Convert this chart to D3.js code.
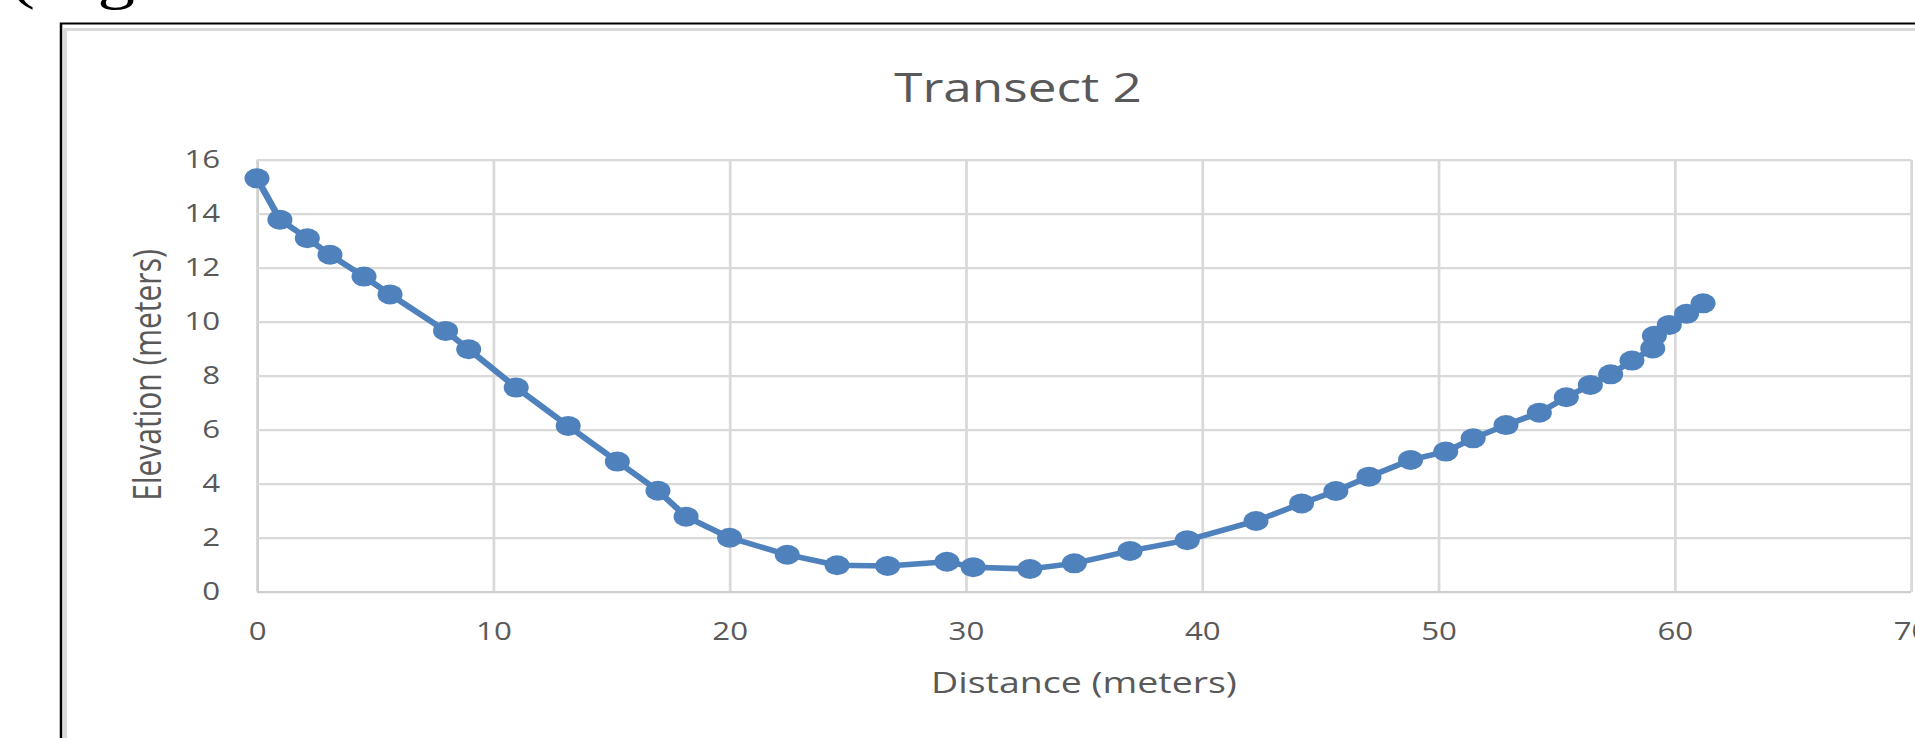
<!DOCTYPE html>
<html>
<head>
<meta charset="utf-8">
<title>Transect 2</title>
<script src="https://cdn.jsdelivr.net/npm/d3@7"></script>
<style>
    html, body { margin: 0; padding: 0; background: #fff; overflow: hidden; }
    #chart-area svg { display: block; }
</style>
</head>
<body>
<div id="chart-area"></div>
<script>
// Data
const distance = [0, 0.97, 2.13, 3.09, 4.53, 5.63, 7.98, 8.96, 10.97, 13.17,
    15.25, 16.97, 18.16, 20.0, 22.44, 24.55, 26.69, 29.2, 30.31, 32.71,
    34.59, 36.95, 39.37, 42.28, 44.21, 45.66, 47.06, 48.82, 50.31, 51.47,
    52.86, 54.27, 55.41, 56.43, 57.29, 58.19, 59.07, 59.14, 59.77, 60.5, 61.2];
const elevation = [15.31, 13.78, 13.09, 12.48, 11.67, 11.01, 9.66, 8.98, 7.56, 6.14,
    4.82, 3.74, 2.78, 2.0, 1.37, 0.98, 0.95, 1.11, 0.91, 0.84,
    1.05, 1.51, 1.91, 2.62, 3.27, 3.73, 4.26, 4.88, 5.19, 5.68,
    6.17, 6.63, 7.2, 7.66, 8.05, 8.56, 9.01, 9.48, 9.88, 10.29, 10.68];
const xTicks = [0, 10, 20, 30, 40, 50, 60, 70];
const yTicks = [0, 2, 4, 6, 8, 10, 12, 14, 16];

// The screenshot is stretched sideways, so the drawing is too
const SX = 1.25;
const W = 1915, H = 738;

// Plot area (in drawing units)
const margin = { left: 257 / SX, top: 159.7 };
const width = 1911 / SX - margin.left;
const height = 591.7 - margin.top;

const svg = d3.select('#chart-area')
    .append('svg')
    .attr('width', W)
    .attr('height', H)
    .attr('viewBox', '0 0 ' + (W / SX) + ' ' + H)
    .attr('preserveAspectRatio', 'none');

// Document text cut off above the chart
svg.append('text')
    .attr('x', 10 / SX)
    .attr('y', -3)
    .attr('font-family', '"Liberation Serif", serif')
    .attr('font-size', '60px')
    .attr('fill', '#000')
    .text('(Figure');

// Frame of the screenshot and chart border
svg.append('path')
    .attr('d', 'M' + (61 / SX) + ',' + H + 'V23.5H' + (W / SX))
    .attr('fill', 'none')
    .attr('stroke', '#000')
    .attr('stroke-width', 2);
svg.append('path')
    .attr('d', 'M' + (65 / SX) + ',' + H + 'V29.5H' + (W / SX))
    .attr('fill', 'none')
    .attr('stroke', '#d9d9d9')
    .attr('stroke-width', 3);

const g = svg.append('g')
    .attr('transform', 'translate(' + margin.left + ', ' + margin.top + ')');

// Scales
const x = d3.scaleLinear()
    .domain([0, 70])
    .range([0, width]);

const y = d3.scaleLinear()
    .domain([0, 16])
    .range([height, 0]);

// X Axis + vertical gridlines
const xAxisCall = d3.axisBottom(x)
    .tickValues(xTicks)
    .tickSize(-height)
    .tickPadding(31);
const xAxis = g.append('g')
    .attr('class', 'x axis')
    .attr('transform', 'translate(0, ' + height + ')')
    .call(xAxisCall);

// Y Axis + horizontal gridlines
const yAxisCall = d3.axisLeft(y)
    .tickValues(yTicks)
    .tickSize(-width)
    .tickPadding(29.5);
const yAxis = g.append('g')
    .attr('class', 'y axis')
    .call(yAxisCall);

[xAxis, yAxis].forEach((ax) => {
    ax.select('.domain').remove();
    ax.selectAll('line')
        .attr('stroke', '#d9d9d9')
        .attr('stroke-width', 2.2);
    ax.selectAll('text')
        .attr('fill', '#595959')
        .attr('font-family', '"Open Sans", sans-serif')
        .attr('font-size', '25px');
});
xAxis.selectAll('.tick')
    .filter((d) => d === 0)
    .select('line')
    .attr('stroke', '#cfcfcf');
yAxis.selectAll('.tick')
    .filter((d) => d === 0)
    .select('line')
    .attr('stroke', '#cfcfcf');

// Title
svg.append('text')
    .attr('x', 1018 / SX)
    .attr('y', 102)
    .attr('text-anchor', 'middle')
    .attr('font-family', '"Open Sans", sans-serif')
    .attr('font-size', '41px')
    .attr('fill', '#595959')
    .text('Transect 2');

// X Label
svg.append('text')
    .attr('x', 1084 / SX)
    .attr('y', 693)
    .attr('text-anchor', 'middle')
    .attr('font-family', '"Open Sans", sans-serif')
    .attr('font-size', '30px')
    .attr('fill', '#595959')
    .text('Distance (meters)');

// Y Label
svg.append('text')
    .attr('transform', 'translate(' + (161 / SX) + ', 375) rotate(-90)')
    .attr('text-anchor', 'middle')
    .attr('font-family', '"Open Sans", sans-serif')
    .attr('font-size', '30px')
    .attr('fill', '#595959')
    .text('Elevation (meters)');

// Series
const points = distance.map((d, i) => {
    return { dist: d, elev: elevation[i] };
});

const line = d3.line()
    .x((d) => x(d.dist))
    .y((d) => y(d.elev));

g.append('path')
    .datum(points)
    .attr('d', line)
    .attr('fill', 'none')
    .attr('stroke', '#4f81bd')
    .attr('stroke-width', 5.5)
    .attr('stroke-linejoin', 'round');

g.selectAll('circle')
    .data(points)
    .enter()
    .append('circle')
    .attr('cx', (d) => x(d.dist))
    .attr('cy', (d) => y(d.elev))
    .attr('r', 10)
    .attr('fill', '#4f81bd');
</script>
</body>
</html>
